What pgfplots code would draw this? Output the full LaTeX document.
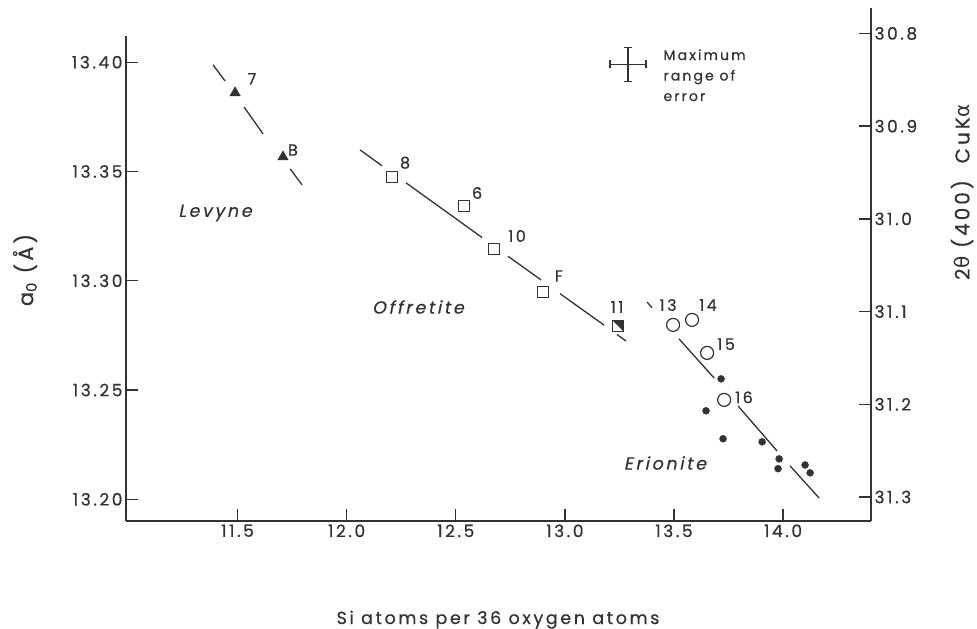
\documentclass[border=0pt]{standalone}
\usepackage{fontspec}
\setmainfont{Poppins}[LetterSpace=15, FakeBold=0.5]
\newfontfamily\grk{DejaVu Sans}
\newfontfamily\slant{Poppins}[FakeSlant=0.2, LetterSpace=15, FakeBold=0.5]
\usepackage{pgfplots}
\pgfplotsset{compat=1.18}
\definecolor{ink}{RGB}{50,50,50}

% square with its upper right half filled (sample 11)
\pgfdeclareplotmark{halfsq}{%
  \pgfpathrectangle{\pgfpoint{-\pgfplotmarksize}{-\pgfplotmarksize}}{\pgfpoint{2\pgfplotmarksize}{2\pgfplotmarksize}}%
  \pgfusepathqstroke
  \pgfpathmoveto{\pgfpoint{-\pgfplotmarksize}{\pgfplotmarksize}}%
  \pgfpathlineto{\pgfpoint{\pgfplotmarksize}{\pgfplotmarksize}}%
  \pgfpathlineto{\pgfpoint{\pgfplotmarksize}{-\pgfplotmarksize}}%
  \pgfpathclose
  \pgfusepathqfill}

\pgfplotsset{
  common/.style={
    scale only axis, width=745pt,
    xmin=10.989, xmax=14.403,
    tick align=inside, major tick length=12pt,
    tick style={ink, line width=1.4pt},
    /pgf/number format/assume math mode=true,
    ticklabel style={font=\fontsize{17}{20}\selectfont, text=ink},
  },
  nolinearrows/.style={
    axis line style={-, ink, line width=1.6pt},
    every outer x axis line/.append style={-},
    every outer y axis line/.append style={-},
  },
  fitline/.style={ink, line width=1.3pt, unbounded coords=jump},
}

\begin{document}
\begin{tikzpicture}
\useasboundingbox (-126pt,-108pt) rectangle (851pt,521pt);

\begin{axis}[common,
  at={(0,0)}, anchor=south west, height=485pt,
  ymin=13.19007, ymax=13.412,
  axis x line*=bottom, axis y line*=left, nolinearrows,
  xtick={11.5,12,12.5,13,13.5,14},
  ytick={13.20,13.25,13.30,13.35,13.40},
  xticklabel style={/pgf/number format/.cd, fixed, fixed zerofill, precision=1},
  yticklabel style={/pgf/number format/.cd, fixed, fixed zerofill, precision=2},
  clip=false]

% fitted lines, broken round the points
\addplot[fitline] coordinates {
  (11.388,13.3988) (11.443,13.3914) (11.5,nan)
  (11.530,13.3795) (11.617,13.3672) (11.7,nan)
  (11.741,13.3512) (11.796,13.3439)
};
\addplot[fitline] coordinates {
  (12.0614,13.3599) (12.1622,13.3526) (12.2,nan)
  (12.2722,13.3448) (12.6205,13.3198) (12.7,nan)
  (12.7397,13.3112) (12.8909,13.3004) (12.9,nan)
  (12.9780,13.2941) (13.1796,13.2797) (13.2,nan)
  (13.2392,13.2754) (13.2804,13.2724)
};
\addplot[fitline] coordinates {
  (13.3768,13.2903) (13.3997,13.2876) (13.45,nan)
  (13.5234,13.2734) (13.6838,13.2555) (13.75,nan)
  (13.7938,13.2427) (13.9725,13.2221) (14.0,nan)
  (14.0321,13.2153) (14.1650,13.2006)
};

% Levyne
\addplot[only marks, mark=triangle*, mark size=6pt, ink] coordinates {
  (11.489,13.386) (11.7085,13.3567)
};
% Offretite
\addplot[only marks, mark=square, mark size=5.5pt, ink, mark options={line width=1.2pt}] coordinates {
  (12.208,13.3475) (12.538,13.3342) (12.676,13.3146) (12.900,13.2949)
};
\addplot[only marks, mark=halfsq, mark size=5.5pt, ink, mark options={line width=1.2pt}] coordinates {
  (13.244,13.2793)
};
% Erionite
\addplot[only marks, mark=o, mark size=6.5pt, ink, mark options={line width=1.2pt}] coordinates {
  (13.496,13.2798) (13.583,13.2821) (13.652,13.2670) (13.730,13.2455)
};
\addplot[only marks, mark=*, mark size=3.5pt, ink] coordinates {
  (13.716,13.2551) (13.647,13.2405) (13.725,13.2277) (13.904,13.2263)
  (13.982,13.2185) (13.977,13.2140) (14.101,13.2157) (14.124,13.2121)
};

% maximum range of error
\addplot[draw=none, mark=none,
  error bars/.cd, x dir=both, x explicit, y dir=both, y explicit,
  error mark=|,
  error bar style={draw=ink, line width=1.1pt},
  error mark options={draw=ink, mark size=4pt, line width=1.1pt}] coordinates {
  (13.2896,13.399) +- (0.0825,0.0078)
};

\begin{scope}[font=\fontsize{16}{18}\selectfont, text=ink]
\node at (axis cs:11.566,13.3924) {7};
\node at (axis cs:11.754,13.3598) {B};
\node at (axis cs:12.268,13.354) {8};
\node at (axis cs:12.598,13.3402) {6};
\node at (axis cs:12.781,13.3205) {10};
\node at (axis cs:12.973,13.3022) {F};
\node at (axis cs:13.239,13.288) {11};
\node at (axis cs:13.473,13.2889) {13};
\node at (axis cs:13.656,13.2889) {14};
\node at (axis cs:13.739,13.271) {15};
\node at (axis cs:13.821,13.2467) {16};
\end{scope}
\begin{scope}[font={\fontsize{17.5}{20}\slant}, text=ink]
\node at (axis cs:11.397,13.331) {Levyne};
\node at (axis cs:12.327,13.288) {Offretite};
\node at (axis cs:13.459,13.2166) {Erionite};
\end{scope}
\node[anchor=north west, align=left, font=\fontsize{14}{20.5}\selectfont, text=ink]
  at (axis cs:13.436,13.4075) {Maximum\\range of\\error};
\end{axis}

\begin{axis}[common,
  at={(0,0)}, anchor=south west, height=513pt,
  ymin=30.7725, ymax=31.3259, y dir=reverse,
  axis x line=none, axis y line*=right, nolinearrows,
  ytick={30.8,30.9,31.0,31.1,31.2,31.3},
  yticklabel style={/pgf/number format/.cd, fixed, fixed zerofill, precision=1}]
\addplot[draw=none] coordinates {(12,31)};
\end{axis}

\begin{scope}[text=ink]
\node[rotate=90, font=\fontsize{21}{24}\selectfont] at (-101pt,251pt) {a\textsubscript{0}\ (Å)};
\node[rotate=90, font=\fontsize{20}{24}\selectfont] at (836pt,329pt) {2{\grk θ} (400)\ \ CuK{\grk α}};
\node[anchor=base, font=\fontsize{17.5}{20}\selectfont] at (372pt,-103pt) {Si atoms per 36 oxygen atoms};
\end{scope}
\end{tikzpicture}
\end{document}
